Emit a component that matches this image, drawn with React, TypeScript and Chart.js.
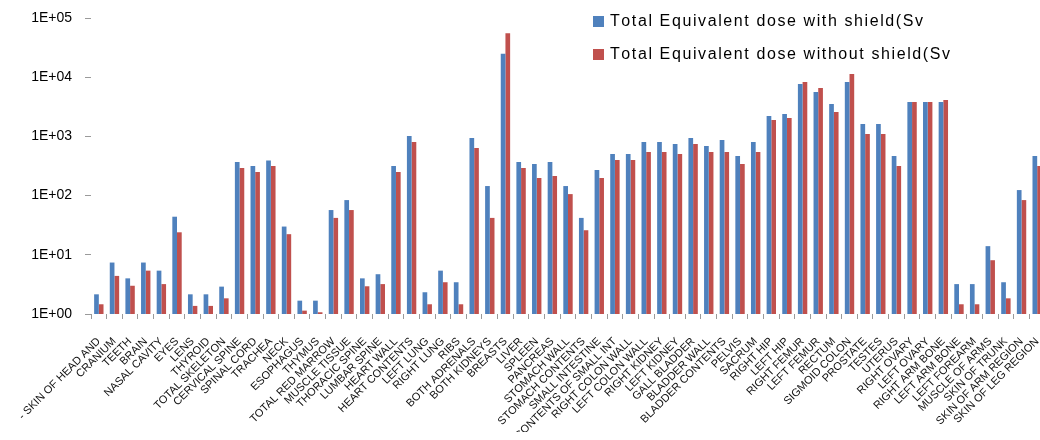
import React, { useEffect, useRef } from "react";
import { Chart, registerables } from "chart.js";

Chart.register(...registerables);

// Organ / tissue regions of the phantom, in plotting order
const organs: string[] = [
  "- SKIN OF HEAD AND",
  "CRANIUM",
  "TEETH",
  "BRAIN",
  "NASAL CAVITY",
  "EYES",
  "LENS",
  "THYROID",
  "TOTAL SKELETON",
  "CERVICAL SPINE",
  "SPINAL CORD",
  "TRACHEA",
  "NECK",
  "ESOPHAGUS",
  "THYMUS",
  "TOTAL RED MARROW",
  "MUSCLE TISSUE",
  "THORACIC SPINE",
  "LUMBAR SPINE",
  "HEART WALL",
  "HEART CONTENTS",
  "LEFT LUNG",
  "RIGHT LUNG",
  "RIBS",
  "BOTH ADRENALS",
  "BOTH KIDNEYS",
  "BREASTS",
  "LIVER",
  "SPLEEN",
  "PANCREAS",
  "STOMACH WALL",
  "STOMACH CONTENTS",
  "SMALL INTESTINE",
  "CONTENTS OF SMALL INT",
  "RIGHT COLON WALL",
  "LEFT COLON WALL",
  "RIGHT KIDNEY",
  "LEFT KIDNEY",
  "GALL BLADDER",
  "BLADDER WALL",
  "BLADDER CONTENTS",
  "PELVIS",
  "SACRUM",
  "RIGHT HIP",
  "LEFT HIP",
  "RIGHT FEMUR",
  "LEFT FEMUR",
  "RECTUM",
  "SIGMOID COLON",
  "PROSTATE",
  "TESTES",
  "UTERUS",
  "RIGHT OVARY",
  "LEFT OVARY",
  "RIGHT ARM BONE",
  "LEFT ARM BONE",
  "LEFT FOREARM",
  "MUSCLE OF ARMS",
  "SKIN OF TRUNK",
  "SKIN OF ARM REGION",
  "SKIN OF LEG REGION",
];

// Total equivalent dose per organ (Sv)
const doseWithShield: number[] = [
  2.15, 7.4, 4.0, 7.4, 5.4, 44, 2.15, 2.15, 2.9, 370,
  316, 393, 30, 1.68, 1.68, 57, 84, 4.0, 4.7, 316,
  1015, 2.33, 5.4, 3.44, 940, 145, 25000, 370, 341, 370,
  145, 42, 270, 504, 504, 804, 804, 743, 940, 688,
  869, 466, 804, 2210, 2390, 7700, 5640, 3530, 8320, 1620,
  1620, 466, 3820, 3820, 3820, 3.2, 3.2, 14, 3.44, 124,
  466,
];

const doseWithoutShield: number[] = [
  1.46, 4.4, 3.0, 5.4, 3.2, 24, 1.37, 1.37, 1.84, 292,
  250, 316, 22.3, 1.14, 1.07, 42, 57, 2.94, 3.2, 250,
  804, 1.46, 3.44, 1.46, 637, 42, 55300, 292, 198, 214,
  106, 26, 198, 399, 399, 545, 545, 504, 743, 545,
  545, 341, 545, 1890, 2050, 8320, 6590, 2590, 11380, 1098,
  1098, 316, 3820, 3820, 4130, 1.46, 1.46, 8.1, 1.84, 84,
  316,
];

const seriesNames: string[] = [
  "Total Equivalent dose with shield(Sv",
  "Total Equivalent dose without shield(Sv",
];

const seriesColors: string[] = ["#4F81BD", "#C0504D"];

// Decade ticks shown on the logarithmic axis
const yTickValues: number[] = [1, 10, 100, 1000, 10000, 100000];

const formatPower = (v: number): string => {
  const exp = Math.round(Math.log10(v));
  return "1E+" + String(exp).padStart(2, "0");
};

// Writes text one glyph at a time with extra tracking between glyphs
const drawTracked = (ctx: CanvasRenderingContext2D, text: string, x: number, y: number, tracking: number) => {
  let cx = x;
  for (const ch of text) {
    ctx.fillText(ch, cx, y);
    cx += ctx.measureText(ch).width + tracking;
  }
};

// Legend drawn as two stacked rows in the upper right of the plot
const stackedLegend = {
  id: "stackedLegend",
  afterDraw(chart: Chart) {
    const ctx = chart.ctx;
    ctx.save();
    ctx.font = "16px 'Liberation Sans', Arial, sans-serif";
    ctx.textBaseline = "middle";
    ctx.textAlign = "left";
    chart.data.datasets.forEach((ds, i) => {
      const boxX = 585;
      const boxY = 8 + i * 33;
      ctx.fillStyle = ds.backgroundColor as string;
      ctx.fillRect(boxX, boxY, 11, 11);
      ctx.fillStyle = "#000000";
      drawTracked(ctx, String(ds.label), boxX + 17, boxY + 6, 1.6);
    });
    ctx.restore();
  },
};

export default function App() {
  const canvasRef = useRef<HTMLCanvasElement | null>(null);

  useEffect(() => {
    if (!canvasRef.current) return;
    const chart = new Chart(canvasRef.current, {
      type: "bar",
      data: {
        labels: organs,
        datasets: [
          {
            label: seriesNames[0],
            data: doseWithShield,
            backgroundColor: seriesColors[0],
            borderWidth: 0,
          },
          {
            label: seriesNames[1],
            data: doseWithoutShield,
            backgroundColor: seriesColors[1],
            borderWidth: 0,
          },
        ],
      },
      options: {
        responsive: false,
        animation: false,
        devicePixelRatio: 1,
        layout: { padding: { top: 10, right: 9, bottom: 0, left: 0 } },
        datasets: {
          bar: { categoryPercentage: 0.6, barPercentage: 1.0 },
        },
        plugins: {
          legend: { display: false },
          tooltip: { enabled: false },
        },
        scales: {
          x: {
            type: "category",
            offset: true,
            border: { display: false },
            grid: {
              offset: true,
              drawOnChartArea: false,
              drawTicks: true,
              tickLength: 5,
              color: "#9a9a9a",
            },
            ticks: {
              autoSkip: false,
              minRotation: 45,
              maxRotation: 45,
              padding: 16,
              color: "#111111",
              font: { family: "'Liberation Sans', Arial, sans-serif", size: 11 },
            },
            afterFit(scale: any) {
              scale.height = 118;
              scale.paddingLeft = 0;
              scale.paddingRight = 0;
            },
          },
          y: {
            type: "logarithmic",
            min: 1,
            max: 100000,
            border: { display: false },
            grid: {
              drawOnChartArea: false,
              drawTicks: true,
              tickLength: 6,
              color: "#9a9a9a",
            },
            ticks: {
              padding: 13,
              color: "#000000",
              font: { family: "'Liberation Sans', Arial, sans-serif", size: 14 },
              callback: (value: any) => formatPower(Number(value)),
            },
            afterBuildTicks(scale: any) {
              scale.ticks = yTickValues.map((v) => ({ value: v, major: true }));
            },
            afterFit(scale: any) {
              scale.width = 83;
              scale.paddingTop = 0;
              scale.paddingBottom = 0;
            },
          },
        },
      },
      plugins: [stackedLegend],
    });
    return () => chart.destroy();
  }, []);

  return (
    <div
      style={{
        position: "fixed",
        left: 8,
        top: 8,
        width: 1032,
        height: 424,
        overflow: "hidden",
        background: "#ffffff",
      }}
    >
      <canvas ref={canvasRef} width={1046} height={424} style={{ display: "block" }} />
    </div>
  );
}
